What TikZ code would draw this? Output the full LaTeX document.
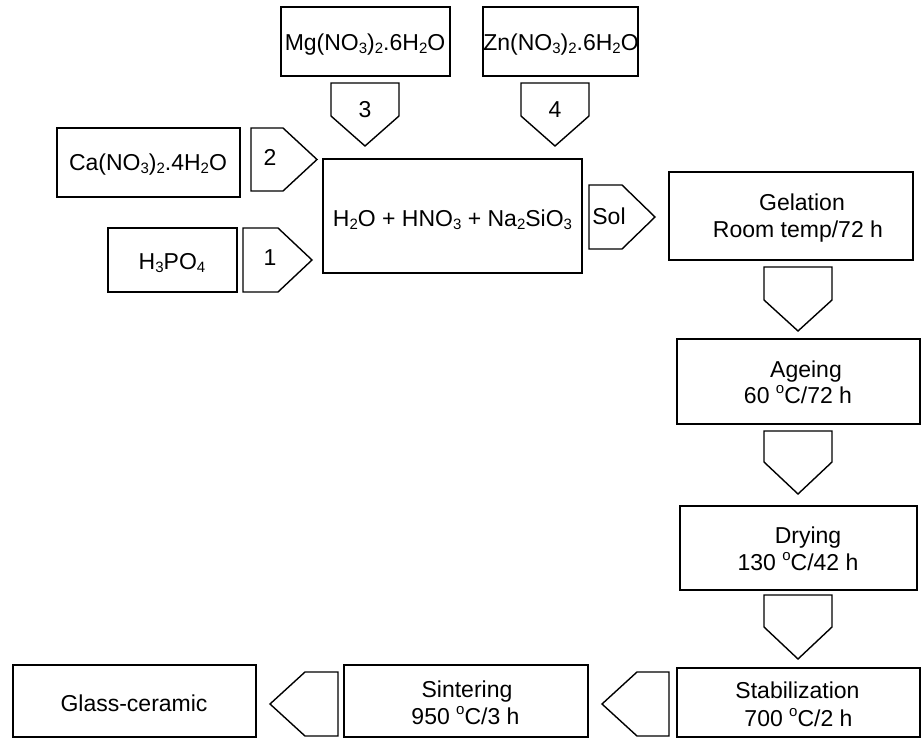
\documentclass[tikz,border=0pt]{standalone}
\usepackage{fontspec}
\setmainfont{Liberation Sans}
\newcommand\chsb[1]{\raisebox{-3pt}{\fontsize{15}{15}\selectfont #1}}
\newcommand\degsp{\raisebox{10pt}{\fontsize{15}{15}\selectfont o}}
\newcommand\dnblk[5]{\draw[blk] (#1,#3) -- (#2,#3) -- (#2,#4) -- ({(#1+#2)/2},#5) -- (#1,#4) -- cycle;}
\newcommand\rtblk[5]{\draw[blk] (#1,#4) -- (#2,#4) -- (#3,{(#4+#5)/2}) -- (#2,#5) -- (#1,#5) -- cycle;}
\newcommand\ltblk[5]{\draw[blk] (#3,#4) -- (#2,#4) -- (#1,{(#4+#5)/2}) -- (#2,#5) -- (#3,#5) -- cycle;}
\begin{document}
\begin{tikzpicture}[x=1pt,y=-1pt,
  box/.style={draw, line width=1.4pt, rectangle, inner sep=0pt, outer sep=0pt},
  txt/.style={anchor=base, inner sep=0pt, font=\fontsize{23}{27}\selectfont},
  blk/.style={draw, line width=1.4pt, line join=miter}]
\useasboundingbox (0,0) rectangle (922,739);
\clip (0,0) rectangle (922,739);
% boxes
\node[box, minimum width=169, minimum height=69] (mg) at (365.5,41.5) {};
\node[box, minimum width=155, minimum height=69] (zn) at (560.5,41.5) {};
\node[box, minimum width=183, minimum height=69] (ca) at (148.5,162.5) {};
\node[box, minimum width=129, minimum height=64] (hp) at (172.5,260) {};
\node[box, minimum width=259, minimum height=114] (mix) at (452.5,216) {};
\node[box, minimum width=244, minimum height=88] (gel) at (791,216) {};
\node[box, minimum width=243, minimum height=85] (age) at (798.5,381.5) {};
\node[box, minimum width=237, minimum height=84] (dry) at (798.5,548) {};
\node[box, minimum width=243, minimum height=69] (stab) at (798.5,702.5) {};
\node[box, minimum width=244, minimum height=72] (sint) at (466,701) {};
\node[box, minimum width=243, minimum height=72] (glass) at (134.5,701) {};
% block arrows
\dnblk{331}{399}{83}{116}{146}
\dnblk{521}{589}{83}{116}{146}
\dnblk{764}{832}{267}{300}{331}
\dnblk{764}{832}{431}{462}{494}
\dnblk{764}{832}{595}{627}{659}
\rtblk{251}{283}{317}{128}{191}
\rtblk{243}{278}{312}{228}{292}
\rtblk{589}{622}{655}{185}{249}
\ltblk{270}{305}{338}{672}{736}
\ltblk{602}{637}{669}{672}{736}
% texts
\node[txt] (tmg) at (365,50) {Mg(NO\chsb{3})\chsb{2}.6H\chsb{2}O};
\node[txt] (tzn) at (561,50) {Zn(NO\chsb{3})\chsb{2}.6H\chsb{2}O};
\node[txt] (tca) at (148,170) {Ca(NO\chsb{3})\chsb{2}.4H\chsb{2}O};
\node[txt] (thp) at (172,269) {H\chsb{3}PO\chsb{4}};
\node[txt] (tmix) at (452.5,226) {H\chsb{2}O + HNO\chsb{3} + Na\chsb{2}SiO\chsb{3}};
\node[txt] (tsol) at (609,224) {Sol};
\node[txt] (n1) at (270,265) {1};
\node[txt] (n2) at (270,165) {2};
\node[txt] (n3) at (365,117) {3};
\node[txt] (n4) at (555,117) {4};
\node[txt] (gel1) at (802,210) {Gelation};
\node[txt] (gel2) at (798,237) {Room temp/72 h};
\node[txt] (age1) at (806,377) {Ageing};
\node[txt] (age2) at (798,403) {60 \degsp C/72 h};
\node[txt] (dry1) at (808,543) {Drying};
\node[txt] (dry2) at (798,570) {130 \degsp C/42 h};
\node[txt] (stab1) at (797.5,698) {Stabilization};
\node[txt] (stab2) at (798.5,726) {700 \degsp C/2 h};
\node[txt] (sint1) at (467,697) {Sintering};
\node[txt] (sint2) at (465.5,724) {950 \degsp C/3 h};
\node[txt] (tglass) at (134,711) {Glass-ceramic};
\end{tikzpicture}
\end{document}
